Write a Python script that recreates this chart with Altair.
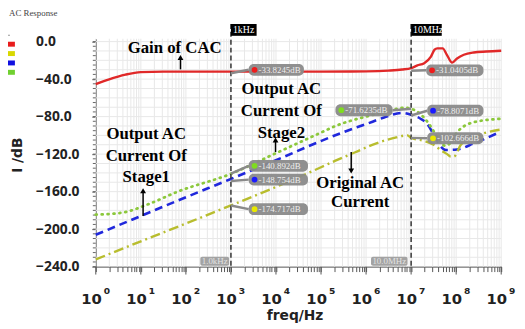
import altair as alt
import pandas as pd

# ---------------- data ----------------
red_exp = [0, 0.28, 0.66, 1.0, 1.5, 2, 3, 4, 5, 6, 6.5, 6.8, 7.0, 7.14, 7.29, 7.44, 7.52, 7.58, 7.70, 7.80, 7.91, 8.02, 8.17, 8.39, 8.67, 9.0]
red_db = [-45.3, -40.5, -35.2, -32.5, -32, -32, -32, -32, -32, -31.8, -31, -29.8, -28.2, -25.4, -23, -16, -8.6, -7.2, -7.2, -14.7, -22.5, -18, -14, -11.6, -10.6, -9.8]

blue_exp = [0, 1, 2, 3, 4, 5, 5.5, 6.0, 6.4, 6.8, 7.0, 7.2, 7.36, 7.5, 7.66, 7.77, 8.02, 8.39, 8.97]
blue_db = [-206, -186, -166, -146.5, -126.5, -106, -96.5, -88, -81, -76, -78, -82, -88, -99, -112, -115.7, -115, -108.6, -96.4]

green_exp = [0, 0.58, 1.16, 1.82, 3, 4, 5, 5.32, 6, 6.5, 6.85, 7.0, 7.2, 7.4, 7.6, 7.75, 7.85, 8.0, 8.39, 8.97]
green_db = [-184.5, -182.5, -173.5, -160, -141, -119, -97, -90, -80, -74, -70.5, -71.6, -77, -88, -103, -111, -109, -98, -86, -82.4]

yellow_exp = [0, 1, 2, 3, 4, 5, 5.32, 5.76, 6.2, 6.6, 6.92, 7.0, 7.3, 7.5, 7.66, 7.8, 7.88, 7.95, 8.1, 8.35, 8.6, 8.97]
yellow_db = [-232.3, -213, -194, -174.7, -155, -134, -127, -118, -109, -103, -100, -102.7, -106, -110, -115.7, -120, -122.7, -122.7, -110.4, -103, -98, -94]

series_color = ["#e02828", "#2028dc", "#8cc83c", "#b8bd2e"]

y_tick_labels = [-240, -200, -160, -120, -80, -40, 0]
x_decades = [0, 1, 2, 3, 4, 5, 6, 7, 8, 9]
x_sup = ["\u2070", "\u00b9", "\u00b2", "\u00b3", "\u2074", "\u2075", "\u2076", "\u2077", "\u2078", "\u2079"]

# cursors
cursor_exp = [3, 7]
cursor_lab = ["1kHz", "10MHz"]
cursor_head_r = [3.57, 7.68]
cursor_bot_lab = ["1.0kHz", "10.0MHz"]
cursor_bot_l = [2.32, 6.11]
cursor_bot_r = [2.96, 6.92]

# callouts
co_cursor = [3, 7, 7, 7, 7, 3, 3, 3]
co_val = [-33.8245, -31.0405, -71.6235, -78.8071, -102.666, -140.892, -148.754, -174.717]
co_text = ["-33.8245dB", "-31.0405dB", "-71.6235dB", "-78.8071dB", "-102.666dB", "-140.892dB", "-148.754dB", "-174.717dB"]
co_dot = ["#ee1c1c", "#ee1c1c", "#7fdc20", "#1a1aff", "#e8e800", "#7fdc20", "#1a1aff", "#e8e800"]
co_l = [3.394, 7.335, 5.32, 7.357, 7.357, 3.394, 3.394, 3.394]
co_r = [4.62, 8.605, 6.59, 8.605, 8.605, 4.71, 4.71, 4.71]
co_c = [-30.1, -30.6, -73.2, -73.7, -103.1, -132.5, -147.2, -178.7]
co_side = ["l", "l", "r", "l", "l", "l", "l", "l"]

# text annotations
ann_text = ["Gain of CAC",
            "Output AC", "Current Of", "Stage2",
            "Output AC", "Current Of", "Stage1",
            "Original AC", "Current"]
ann_exp = [1.75, 4.12, 4.12, 4.12, 1.12, 1.12, 1.12, 5.87, 5.87]
ann_db = [-6.5, -50.6, -73.7, -97.8, -99, -122, -145, -150.4, -171.4]

arrow_exp = [1.88, 3.99, 1.05, 5.67]
arrow_tail = [-29.6, -117.8, -186, -117.8]
arrow_head = [-17, -105, -159, -138]
arrow_shape = ["triangle-up", "triangle-up", "triangle-up", "triangle-down"]

legend_colors = ["#e81c1c", "#d8d800", "#1010e0", "#70d030"]

# ---------------- chart ----------------
W, H = 411, 231
xs = alt.Scale(type="log", domain=[1, 1e9], nice=False)
ys = alt.Scale(domain=[-240, 3], nice=False, zero=False)
minor_vals = [m * 10 ** k for k in range(9) for m in range(1, 10)] + [10 ** 9]

xaxis = alt.Axis(values=minor_vals, labels=False, tickSize=5, tickColor="#555",
                 domainColor="#555", grid=False, title=None)
yaxis = alt.Axis(values=y_tick_labels, format=".1f", labelFont="Open Sans",
                 labelFontWeight="bold", labelFontSize=14, labelColor="#222",
                 labelAlign="left", labelBaseline="middle", labelPadding=57,
                 tickSize=4, tickColor="#555", domainColor="#555", grid=False, title=None)


def X(field):
    return alt.X(f"{field}:Q", scale=xs, axis=xaxis)


def Y(field):
    return alt.Y(f"{field}:Q", scale=ys, axis=yaxis)


layers = []

# grid
layers.append(alt.Chart(pd.DataFrame({"f": minor_vals})).mark_rule(color="#e8e8e8", strokeWidth=1)
              .encode(x=X("f"), y=alt.value(0), y2=alt.value(H)))
layers.append(alt.Chart(pd.DataFrame({"db": list(range(-230, 1, 10))})).mark_rule(color="#e8e8e8", strokeWidth=1)
              .encode(y=Y("db"), x=alt.value(0), x2=alt.value(W)))
# minor y ticks
layers.append(alt.Chart(pd.DataFrame({"db": list(range(-240, 1, 5))})).mark_rule(color="#666", strokeWidth=1)
              .encode(y=Y("db"), x=alt.value(-3), x2=alt.value(0)))
# major x ticks
layers.append(alt.Chart(pd.DataFrame({"f": [10 ** e for e in x_decades]})).mark_rule(color="#555", strokeWidth=1)
              .encode(x=X("f"), y=alt.value(H), y2=alt.value(H + 8)))

# curves
styles = [
    dict(strokeWidth=2.4),
    dict(strokeWidth=2.6, strokeDash=[8, 5]),
    dict(strokeWidth=2.8, strokeDash=[1, 5], strokeCap="round"),
    dict(strokeWidth=2.4, strokeDash=[10, 4, 2, 4]),
]
for (ex, db), col, st in zip([(red_exp, red_db), (blue_exp, blue_db), (green_exp, green_db), (yellow_exp, yellow_db)],
                             series_color, styles):
    df = pd.DataFrame({"f": [10 ** e for e in ex], "db": db})
    layers.append(alt.Chart(df).mark_line(color=col, interpolate="monotone", **st)
                  .encode(x=X("f"), y=Y("db")))

# cursors
cdf = pd.DataFrame({"f": [10 ** e for e in cursor_exp], "lab": cursor_lab,
                    "r": [10 ** e for e in cursor_head_r]})
layers.append(alt.Chart(cdf).mark_rule(color="#333", strokeDash=[5, 3], strokeWidth=1.5)
              .encode(x=X("f"), y=alt.value(-15), y2=alt.value(H)))
layers.append(alt.Chart(cdf).mark_rect(color="black")
              .encode(x=X("f"), x2="r:Q", y=alt.value(-15), y2=alt.value(-3)))
layers.append(alt.Chart(cdf).mark_text(align="left", dx=2, baseline="middle", color="white",
                                       font="Liberation Serif", fontSize=10)
              .encode(x=X("f"), y=alt.value(-9), text="lab:N"))
bdf = pd.DataFrame({"l": [10 ** e for e in cursor_bot_l], "r": [10 ** e for e in cursor_bot_r],
                    "c": [10 ** ((a + b) / 2) for a, b in zip(cursor_bot_l, cursor_bot_r)],
                    "lab": cursor_bot_lab})
layers.append(alt.Chart(bdf).mark_rect(color="#a3a3a3", cornerRadius=2)
              .encode(x=X("l"), x2="r:Q", y=alt.value(H - 10), y2=alt.value(H - 1)))
layers.append(alt.Chart(bdf).mark_text(baseline="middle", color="#e4e4e4",
                                       font="Liberation Serif", fontSize=9)
              .encode(x=X("c"), y=alt.value(H - 5.5), text="lab:N"))

# callouts
half = 6.3
co = pd.DataFrame({
    "cf": [10 ** e for e in co_cursor], "val": co_val, "text": co_text, "dot": co_dot,
    "l": [10 ** e for e in co_l], "r": [10 ** e for e in co_r],
    "top": [c + half for c in co_c], "bot": [c - half for c in co_c], "c": co_c,
    "anchor": [10 ** (l if s == "l" else r) for l, r, s in zip(co_l, co_r, co_side)],
    "dotf": [10 ** (l + 0.13) for l in co_l],
})
layers.append(alt.Chart(co).mark_rule(color="#8a8a8a", strokeWidth=2.5)
              .encode(x=X("cf"), y=Y("val"), x2="anchor:Q", y2="c:Q"))
layers.append(alt.Chart(co).mark_rect(color="#8a8a8a", cornerRadius=5, opacity=0.95)
              .encode(x=X("l"), x2="r:Q", y=Y("top"), y2="bot:Q"))
layers.append(alt.Chart(co).mark_circle(size=34, opacity=1)
              .encode(x=X("dotf"), y=Y("c"), color=alt.Color("dot:N", scale=None)))
layers.append(alt.Chart(co).mark_text(align="left", dx=10, baseline="middle", color="#eeeeee",
                                      font="Liberation Serif", fontSize=9)
              .encode(x=X("l"), y=Y("c"), text="text:N"))

# annotations
adf = pd.DataFrame({"f": [10 ** e for e in ann_exp], "db": ann_db, "t": ann_text})
layers.append(alt.Chart(adf).mark_text(font="Liberation Serif", fontWeight="bold", fontSize=17,
                                       color="black", baseline="middle")
              .encode(x=X("f"), y=Y("db"), text="t:N"))
ardf = pd.DataFrame({"f": [10 ** e for e in arrow_exp], "t": arrow_tail, "h": arrow_head,
                     "s": arrow_shape})
layers.append(alt.Chart(ardf).mark_rule(color="black", strokeWidth=1.5)
              .encode(x=X("f"), y=Y("t"), y2="h:Q"))
layers.append(alt.Chart(ardf).mark_point(filled=True, size=35, color="black", opacity=1)
              .encode(x=X("f"), y=Y("h"), shape=alt.Shape("s:N", scale=None)))

# x tick labels (10 + superscript)
xl = pd.DataFrame({"f": [10 ** e for e in x_decades], "sup": [x_sup[e] for e in x_decades]})
layers.append(alt.Chart(xl).mark_text(align="right", dx=6, baseline="middle", font="DejaVu Sans",
                                      fontWeight="bold", fontSize=15, color="#222", text="10")
              .encode(x=X("f"), y=alt.value(H + 33)))
layers.append(alt.Chart(xl).mark_text(align="left", dx=8, baseline="middle", font="DejaVu Sans",
                                      fontWeight="bold", fontSize=15, color="#222")
              .encode(x=X("f"), y=alt.value(H + 28), text="sup:N"))

# axis titles
layers.append(alt.Chart(pd.DataFrame({"t": ["freq/Hz"]})).mark_text(
    font="DejaVu Sans", fontWeight="bold", fontSize=14, color="#222", baseline="middle")
    .encode(x=alt.value(202), y=alt.value(H + 50), text="t:N"))
layers.append(alt.Chart(pd.DataFrame({"t": ["I /dB"]})).mark_text(
    font="DejaVu Sans", fontWeight="bold", fontSize=14, color="#222", baseline="middle", angle=270)
    .encode(x=alt.value(-79), y=alt.value(118), text="t:N"))

# top-left legend
layers.append(alt.Chart(pd.DataFrame({"t": ["AC Response"]})).mark_text(
    font="Liberation Serif", fontSize=9, color="#444", align="left", baseline="middle")
    .encode(x=alt.value(-88), y=alt.value(-26), text="t:N"))
layers.append(alt.Chart(pd.DataFrame({"a": [0]})).mark_rect(color="#999")
              .encode(x=alt.value(-90), x2=alt.value(-87), y=alt.value(-4), y2=alt.value(-3)))
for i, c in enumerate(legend_colors):
    yy = 3 + i * 9.5
    layers.append(alt.Chart(pd.DataFrame({"a": [i]})).mark_rect(color=c)
                  .encode(x=alt.value(-90), x2=alt.value(-82), y=alt.value(yy), y2=alt.value(yy + 5)))

chart = alt.layer(*layers).properties(
    width=W, height=H,
    padding={"left": 89, "top": 29, "right": 16, "bottom": 60},
    autosize=alt.AutoSizeParams(type="none"),
    background="white",
).configure_view(strokeWidth=0)

chart.save("out.html", embed_options={"renderer": "svg", "actions": False})
